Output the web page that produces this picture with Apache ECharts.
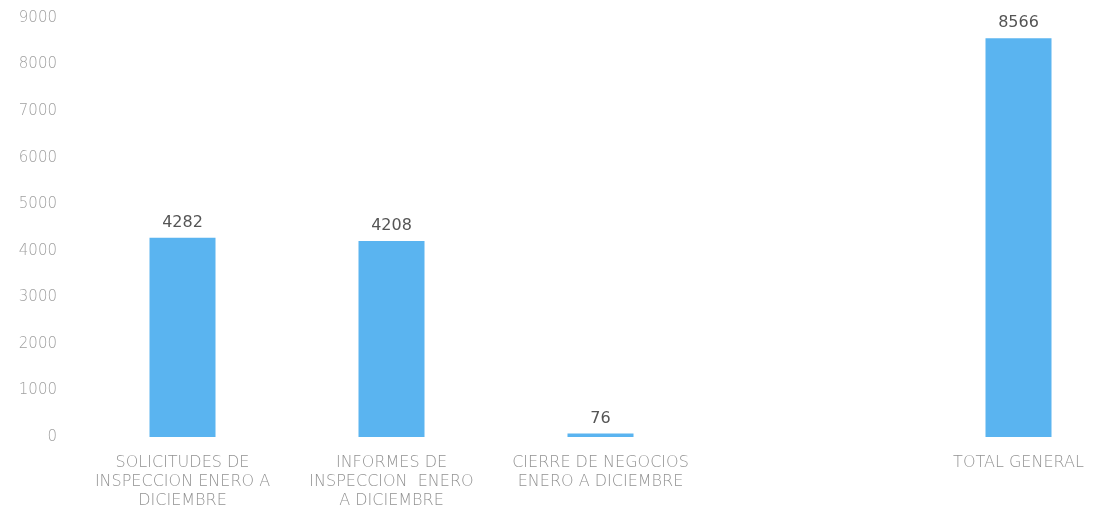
<!DOCTYPE html>
<html>
<head>
<meta charset="utf-8">
<script src="https://cdn.jsdelivr.net/npm/echarts@6/dist/echarts.min.js"></script>
<style>
html,body{margin:0;padding:0;background:#fff;}
#chart{width:1097px;height:507px;}
</style>
</head>
<body>
<div id="chart"></div>
<script>
const categories = [
  'SOLICITUDES DE\nINSPECCION ENERO A\nDICIEMBRE',
  'INFORMES DE\nINSPECCION  ENERO\nA DICIEMBRE',
  'CIERRE DE NEGOCIOS\nENERO A DICIEMBRE',
  '',
  'TOTAL GENERAL'
];
const values = [4282, 4208, 76, null, 8566];
const yTicks = { min: 0, max: 9000, interval: 1000 };

const chart = echarts.init(document.getElementById('chart'));
chart.setOption({
  backgroundColor: '#ffffff',
  animation: false,
  grid: { left: 78, top: 18, bottom: 70, width: 1045, containLabel: false, outerBoundsMode: 'none' },
  xAxis: {
    type: 'category',
    data: categories,
    axisLine: { show: false },
    axisTick: { show: false },
    axisLabel: {
      interval: 0,
      margin: 16,
      color: '#929292',
      fontFamily: 'DejaVu Sans',
      fontWeight: 300,
      fontSize: 16,
      lineHeight: 19
    }
  },
  yAxis: {
    type: 'value',
    min: yTicks.min,
    max: yTicks.max,
    interval: yTicks.interval,
    axisLine: { show: false },
    axisTick: { show: false },
    splitLine: { show: false },
    axisLabel: {
      margin: 21,
      color: '#a0a0a0',
      fontFamily: 'DejaVu Sans',
      fontWeight: 300,
      fontSize: 15,
      formatter: function (v) { return String(v); }
    }
  },
  series: [{
    type: 'bar',
    data: values,
    barWidth: 66,
    itemStyle: { color: '#5ab4f0' },
    label: {
      show: true,
      position: 'top',
      distance: 7,
      color: '#555555',
      fontFamily: 'DejaVu Sans',
      fontSize: 16
    }
  }]
});
</script>
</body>
</html>
